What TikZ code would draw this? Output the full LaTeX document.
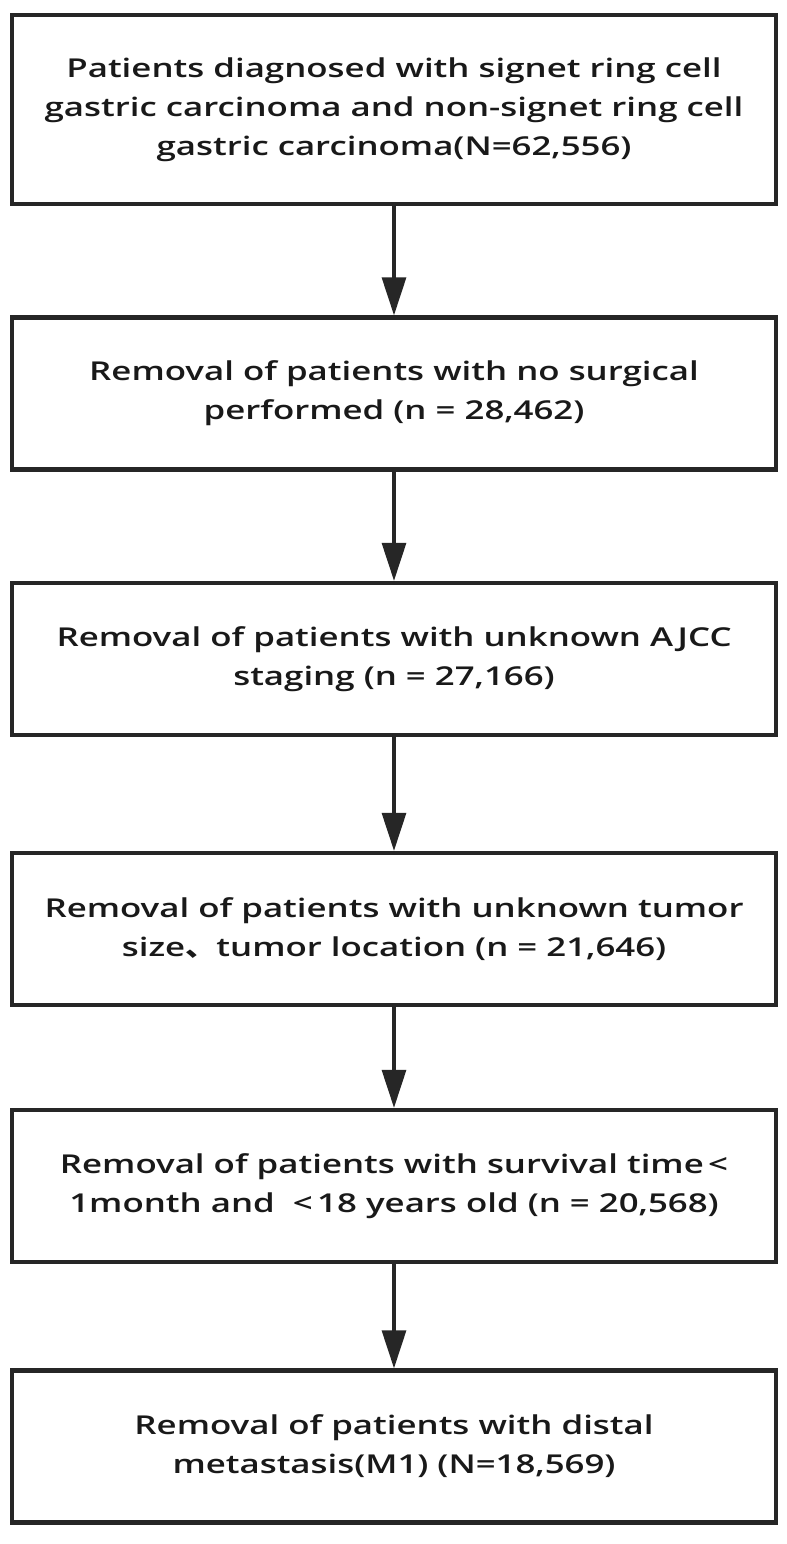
\documentclass[tikz,border=0pt]{standalone}
\usepackage{fontspec}
\setmainfont{Open Sans}[FakeStretch=1.34, BoldFont={Open Sans Semibold}]
\newfontfamily\cjk{Noto Sans CJK SC}[FakeStretch=1.2]
\usetikzlibrary{arrows.meta}
\tikzset{
  flowbox/.style = {draw = black!85, line width = 2.2pt, minimum width = 382pt, minimum height = 76pt,
    align = center, inner sep = 0pt, text = black!90, font = \bfseries\fontsize{13pt}{19.5pt}\selectfont},
  flowarrow/.style = {draw = black!85, line width = 1.6pt, -{Triangle[length = 19pt, width = 12pt]}}
}
\begin{document}
\begin{tikzpicture}[x = 0.5pt, y = -0.5pt]
\useasboundingbox[fill = white] (0,0) rectangle (787,1544);
\node[flowbox, minimum height = 94.5pt] (start) at (394,109.5) {Patients diagnosed with signet ring cell\\
gastric carcinoma and non-signet ring cell\\ gastric carcinoma(N=62,556)};
\node[flowbox] (nosurg) at (394,393.5) {Removal of patients with no surgical\\ performed (n = 28,462)};
\node[flowbox] (ajcc) at (394,659) {Removal of patients with unknown AJCC\\ staging (n = 27,166)};
\node[flowbox] (tumor) at (394,929) {Removal of patients with unknown tumor\\ size{\cjk 、}tumor location (n = 21,646)};
\node[flowbox] (surv) at (394,1186) {Removal of patients with survival time\,<\\ 1month and\ \ <\,18 years old (n = 20,568)};
\node[flowbox] (meta) at (394,1446.5) {Removal of patients with distal\\ metastasis(M1) (N=18,569)};
%
\draw[flowarrow] (start) -- (nosurg);\draw[flowarrow] (nosurg) -- (ajcc);\draw[flowarrow] (ajcc) -- (tumor);
\draw[flowarrow] (tumor) -- (surv);\draw[flowarrow] (surv) -- (meta);
\end{tikzpicture}
\end{document}
